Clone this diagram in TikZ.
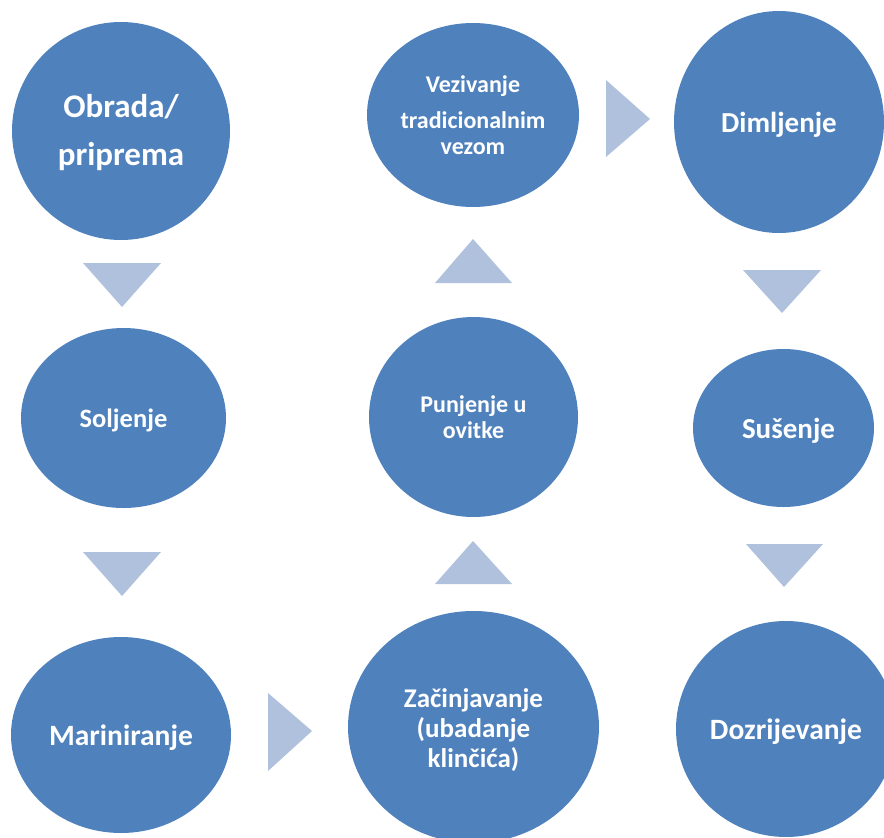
\documentclass[tikz,border=0pt]{standalone}
\usepackage{fontspec}
\setmainfont{Carlito}
\usetikzlibrary{shapes.geometric}
\definecolor{stepblue}{HTML}{4F81BD}
\definecolor{arrowblue}{HTML}{B0C1DD}
\tikzset{
  stepellipse/.style={ellipse, fill=stepblue, draw=none, inner sep=0pt,
    text=white, align=center, font=\bfseries},
  arrowtri/.style={fill=arrowblue, draw=none}
}
\newcommand{\fs}[2]{\fontsize{#1}{#2}\selectfont}
\newcommand{\lowerby}[2]{\raisebox{-#1}[\height][\depth]{#2}}
\begin{document}
\begin{tikzpicture}[x=1pt,y=-1pt]
\useasboundingbox (0,0) rectangle (884,838);
\clip (0,0) rectangle (884,838);
% steps
\node[stepellipse, minimum width=218, minimum height=218, font=\bfseries\fs{33}{48}] (obrada) at (121,131) {\lowerby{2pt}{Obrada/}\\\lowerby{2pt}{priprema}};
\node[stepellipse, minimum width=205, minimum height=180, font=\bfseries\fs{26.5}{30}] (soljenje) at (123.5,418) {\lowerby{2pt}{Soljenje}};
\node[stepellipse, minimum width=220, minimum height=196, font=\bfseries\fs{29.5}{32}] (mariniranje) at (121,735) {\lowerby{3pt}{Mariniranje}};
\node[stepellipse, minimum width=212, minimum height=184, font=\bfseries\fs{24}{26}] (vezivanje) at (473,115) {Vezivanje\\[10pt]tradicionalnim\\vezom};
\node[stepellipse, minimum width=209, minimum height=200, font=\bfseries\fs{24}{26}] (punjenje) at (473.5,417) {Punjenje u\\ovitke};
\node[stepellipse, minimum width=251, minimum height=232, font=\bfseries\fs{27}{30}] (zacin) at (473.5,727) {\lowerby{3pt}{Začinjavanje}\\\lowerby{3pt}{(ubadanje}\\\lowerby{3pt}{klinčića)}};
\node[stepellipse, minimum width=210, minimum height=222, font=\bfseries\fs{29}{32}] (dimljenje) at (779,122) {\lowerby{3pt}{Dimljenje}};
\node[stepellipse, minimum width=181, minimum height=158, font=\bfseries\fs{29}{32}] (susenje) at (783.5,428) {\hspace*{10pt}\lowerby{3pt}{Sušenje}};
\node[stepellipse, minimum width=220, minimum height=216, font=\bfseries\fs{29.5}{32}] (dozrij) at (786,729) {\lowerby{3pt}{Dozrijevanje}};
% arrows (triangles)
\fill[arrowtri] (83,263) -- (161,263) -- (122,307) -- cycle;
\fill[arrowtri] (83,552) -- (161,552) -- (122,596) -- cycle;
\fill[arrowtri] (268,693) -- (268,771) -- (312,731) -- cycle;
\fill[arrowtri] (435,584) -- (512,584) -- (473,541) -- cycle;
\fill[arrowtri] (435,283) -- (512,283) -- (473,239) -- cycle;
\fill[arrowtri] (606,80) -- (606,157) -- (650,119) -- cycle;
\fill[arrowtri] (743,270) -- (821,270) -- (782,313) -- cycle;
\fill[arrowtri] (746,544) -- (823,544) -- (784,587) -- cycle;
\end{tikzpicture}
\end{document}
